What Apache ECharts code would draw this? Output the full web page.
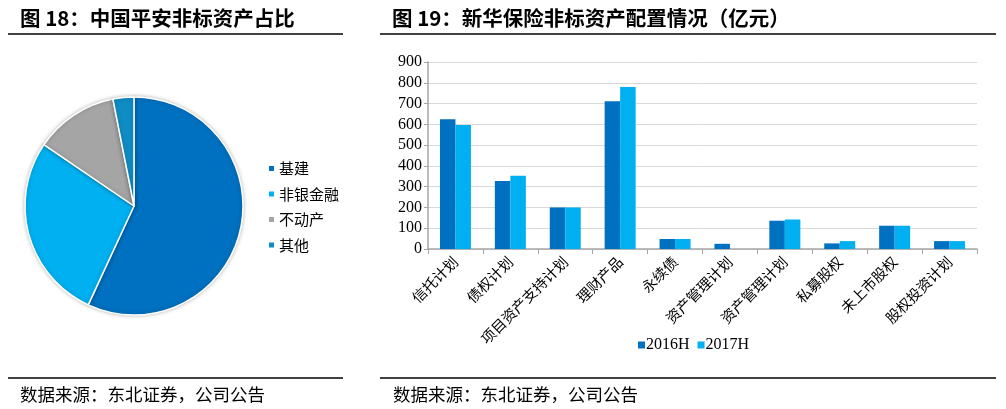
<!DOCTYPE html>
<html>
<head>
<meta charset="utf-8">
<style>
  html, body { margin: 0; padding: 0; background: #fff; }
  #chart { width: 1006px; height: 409px; }
</style>
<script src="https://cdn.jsdelivr.net/npm/echarts@6/dist/echarts.min.js"></script>
</head>
<body>
<div id="chart"></div>
<script>
// 图18 饼图数据（占比，%）
const pieNames = ["基建", "非银金融", "不动产", "其他"];
const pieValues = [56.9, 27.6, 12.4, 3.1];
const pieColors = ["#0070C0", "#00B0F0", "#A5A5A5", "#0F8CC4"];

// 图19 柱状图数据（亿元）
const categories = ["信托计划", "债权计划", "项目资产支持计划", "理财产品", "永续债",
  "资产管理计划", "资产管理计划", "私募股权", "未上市股权", "股权投资计划"];
const v2016 = [625, 327, 200, 711, 48, 25, 136, 27, 112, 38];
const v2017 = [597, 352, 200, 780, 48, 0, 142, 38, 112, 38];
const seriesNames = ["2016H", "2017H"];

const cjk = "'Noto Sans CJK SC', sans-serif";
const serif = "'Liberation Serif', 'DejaVu Serif', serif";

const chart = echarts.init(document.getElementById("chart"));

const line = (x1, y1, x2, y2) => ({
  type: "line",
  shape: { x1, y1, x2, y2 },
  style: { stroke: "#000", lineWidth: 1.5 },
});

const text = (x, y, str, size, weight) => ({
  type: "text",
  x, y,
  style: {
    text: str,
    font: `${weight} ${size}px ${cjk}`,
    fill: "#000",
    textVerticalAlign: "middle",
  },
});

chart.setOption({
  animation: false,
  graphic: [
    text(20, 18, "图 18：中国平安非标资产占比", 20.5, "bold"),
    text(392, 18, "图 19：新华保险非标资产配置情况（亿元）", 20.5, "bold"),
    line(8, 34, 343, 34),
    line(380, 34, 996, 34),
    line(8, 378, 343, 378),
    line(380, 378, 996, 378),
    text(20, 394, "数据来源：东北证券，公司公告", 17.5, "normal"),
    text(393, 394, "数据来源：东北证券，公司公告", 17.5, "normal"),
  ],
  legend: [
    {
      data: pieNames,
      orient: "vertical",
      left: 262,
      top: 156,
      itemWidth: 7,
      itemHeight: 7,
      itemGap: 10.5,
      icon: "rect",
      textStyle: { fontFamily: cjk, fontSize: 15, color: "#000", padding: [0, 0, 0, -1] },
    },
    {
      data: seriesNames,
      left: 633,
      top: 332,
      itemWidth: 7,
      itemHeight: 7,
      itemGap: 8,
      icon: "rect",
      textStyle: { fontFamily: serif, fontSize: 16, color: "#000", padding: [0, 0, 0, -4] },
    },
  ],
  grid: {
    left: 428,
    right: 29,
    top: 62,
    bottom: 160,
    containLabel: false,
  },
  xAxis: {
    type: "category",
    data: categories,
    axisLine: { lineStyle: { color: "#A6A6A6", width: 1.5 } },
    axisTick: { show: true, length: 5, lineStyle: { color: "#A6A6A6" } },
    axisLabel: {
      interval: 0,
      rotate: 45,
      margin: 10,
      fontFamily: cjk,
      fontSize: 14.5,
      color: "#000",
    },
  },
  yAxis: {
    type: "value",
    min: 0,
    max: 900,
    interval: 100,
    axisLine: { show: true, lineStyle: { color: "#A6A6A6", width: 1.5 } },
    axisTick: { show: true, length: 4, lineStyle: { color: "#A6A6A6" } },
    splitLine: { lineStyle: { color: "#D9D9D9", width: 1 } },
    axisLabel: { fontFamily: serif, fontSize: 16, color: "#000", margin: 6 },
  },
  series: [
    {
      type: "pie",
      center: [134, 206],
      radius: 109,
      startAngle: 90,
      clockwise: true,
      label: { show: false },
      labelLine: { show: false },
      itemStyle: {
        borderColor: "#fff",
        borderWidth: 1.5,
        shadowBlur: 4,
        shadowColor: "rgba(0,0,0,0.25)",
      },
      data: pieNames.map((n, i) => ({
        name: n,
        value: pieValues[i],
        itemStyle: { color: pieColors[i] },
      })),
    },
    {
      name: seriesNames[0],
      type: "bar",
      data: v2016,
      barWidth: 15.5,
      barGap: "0%",
      itemStyle: { color: "#0070C0" },
    },
    {
      name: seriesNames[1],
      type: "bar",
      data: v2017,
      barWidth: 15.5,
      barGap: "0%",
      itemStyle: { color: "#00B0F0" },
    },
  ],
});
</script>
</body>
</html>
